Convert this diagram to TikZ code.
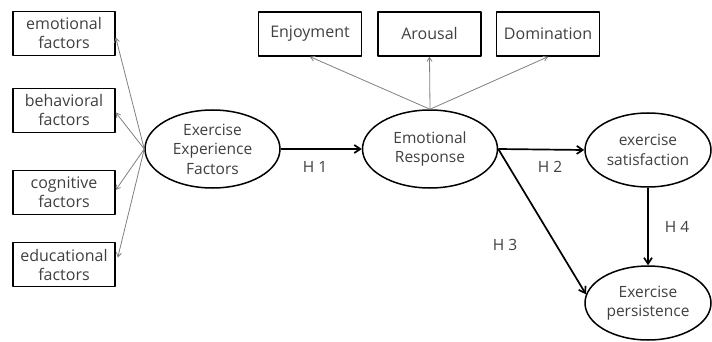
\documentclass[tikz,border=0pt]{standalone}
\usepackage{fontspec}
\setmainfont{Open Sans}
\usepackage{tikz}
\usetikzlibrary{arrows.meta,shapes.geometric}

\begin{document}
\begin{tikzpicture}[x=1pt,y=-1pt,line join=round,
    obsbox/.style={draw,line width=1.5pt,minimum width=102pt,minimum height=44pt,
      inner sep=0pt,align=center,font=\fontsize{16}{19}\selectfont,text=black!75},
    topbox/.style={obsbox,minimum width=103pt},
    latent/.style={draw,ellipse,line width=1.5pt,inner sep=0pt,align=center,
      font=\fontsize{15.5}{19.5}\selectfont,text=black!75},
    load/.style={-{Straight Barb[length=4pt,width=5pt]},gray,line width=0.8pt},
    hyp/.style={-{Straight Barb[length=6pt,width=8pt]},line width=1.7pt},
    hlabel/.style={font=\fontsize{15.5}{18}\selectfont,text=black!75}]
  \useasboundingbox (0,0) rectangle (712,342);
  % indicator boxes
  \node[obsbox] (emo) at (64,33.5) {emotional\\factors};
  \node[obsbox] (beh) at (64,110.5) {behavioral\\factors};
  \node[obsbox] (cog) at (64,192.5) {cognitive\\factors};
  \node[obsbox] (edu) at (64,264.5) {educational\\factors};
  \node[topbox] (enj) at (310,34) {Enjoyment};
  \node[topbox] (aro) at (429.5,34) {Arousal};
  \node[topbox] (dom) at (548,34) {Domination};
  % latent variables
  \node[latent,minimum width=135pt,minimum height=78pt] (eef) at (212.5,149) {Exercise\\Experience\\Factors};
  \node[latent,minimum width=135pt,minimum height=78pt] (er) at (430,149) {Emotional\\Response};
  \node[latent,minimum width=126pt,minimum height=74pt] (sat) at (648,150) {exercise\\satisfaction};
  \node[latent,minimum width=126pt,minimum height=74pt] (per) at (648,303) {Exercise\\persistence};
  % loadings
  \draw[load] (eef.west) -- ([yshift=-4pt]emo.east);
  \draw[load] (eef.west) -- ([yshift=-2pt]beh.east);
  \draw[load] (eef.west) -- ([yshift=2.5pt]cog.east);
  \draw[load] (eef.west) -- ([yshift=7pt,xshift=2pt]edu.east);
  \draw[load] (er.north) -- (enj.south);
  \draw[load] (er.north) -- (aro.south);
  \draw[load] (er.north) -- (dom.south);
  % hypotheses
  \draw[hyp] (eef.east) -- (er.west);
  \draw[hyp] (er.east) -- (sat.west);
  \draw[hyp] (er.east) -- (per.172);
  \draw[hyp] (sat.south) -- (per.north);
  \node[hlabel] (h1) at (315,167) {H 1};
  \node[hlabel] (h2) at (550,167) {H 2};
  \node[hlabel] (h3) at (505,245) {H 3};
  \node[hlabel] (h4) at (677,227) {H 4};
\end{tikzpicture}
\end{document}
